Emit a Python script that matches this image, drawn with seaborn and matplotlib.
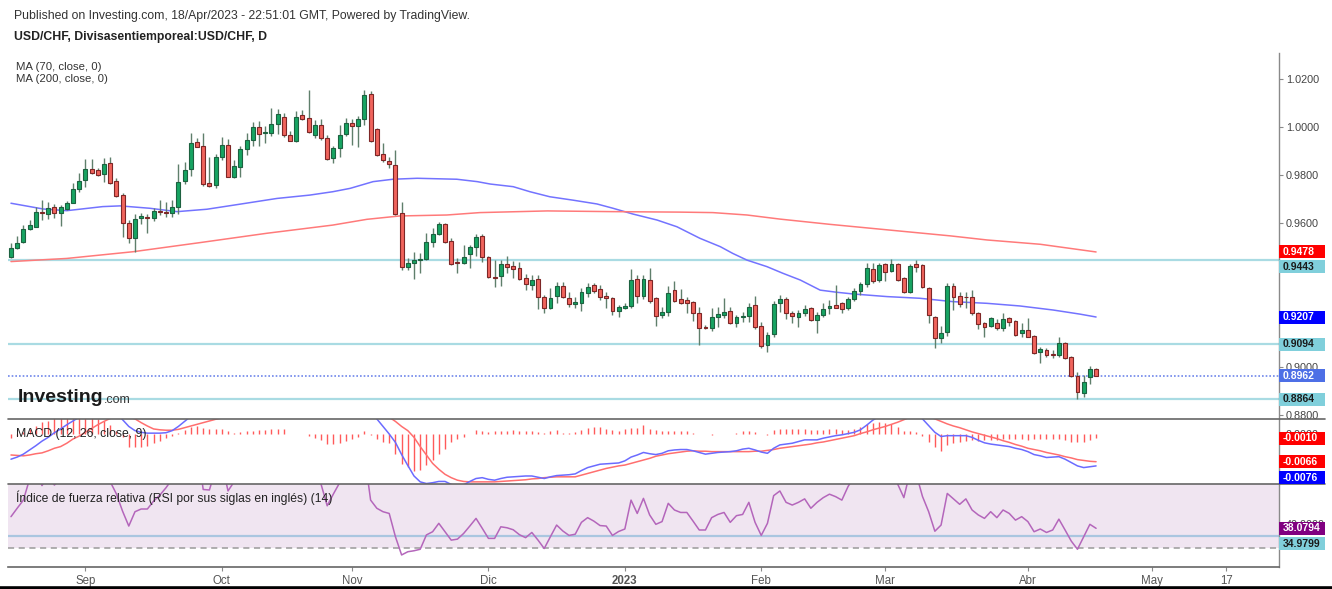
import matplotlib
matplotlib.use("Agg")
import matplotlib.pyplot as plt
from matplotlib.lines import Line2D
from matplotlib.patches import Rectangle
import numpy as np
import pandas as pd
import seaborn as sns

# USD/CHF daily candles, 16 Aug 2022 - 18 Apr 2023
dates = pd.bdate_range("2022-08-16", "2023-04-18")

open_ = [0.9458, 0.9496, 0.9521, 0.9572, 0.9583, 0.9643, 0.9636, 0.9667, 0.9639, 0.9656,
         0.9683, 0.9739, 0.9778, 0.9825, 0.9819, 0.9803, 0.9847, 0.9775, 0.9715, 0.9600,
         0.9535, 0.9618, 0.9622, 0.9621, 0.9649, 0.9644, 0.9642, 0.9664, 0.9775, 0.9822,
         0.9938, 0.9919, 0.9764, 0.9758, 0.9872, 0.9925, 0.9792, 0.9831, 0.9906, 0.9944,
         0.9997, 0.9975, 0.9975, 1.0011, 1.0042, 0.9964, 0.9942, 1.0047, 1.0036, 0.9965,
         1.0007, 0.9951, 0.9868, 0.9910, 0.9969, 1.0017, 1.0003, 1.0031, 1.0136, 0.9989,
         0.9885, 0.9857, 0.9840, 0.9642, 0.9414, 0.9433, 0.9444, 0.9447, 0.9521, 0.9553,
         0.9594, 0.9524, 0.9436, 0.9433, 0.9469, 0.9497, 0.9545, 0.9458, 0.9372, 0.9378,
         0.9428, 0.9419, 0.9410, 0.9368, 0.9340, 0.9364, 0.9289, 0.9243, 0.9294, 0.9338,
         0.9285, 0.9261, 0.9267, 0.9308, 0.9340, 0.9322, 0.9294, 0.9285, 0.9233, 0.9243,
         0.9253, 0.9364, 0.9294, 0.9361, 0.9285, 0.9215, 0.9229, 0.9319, 0.9281, 0.9278,
         0.9268, 0.9222, 0.9167, 0.9160, 0.9206, 0.9215, 0.9233, 0.9183, 0.9206, 0.9213,
         0.9257, 0.9170, 0.9090, 0.9136, 0.9264, 0.9283, 0.9222, 0.9208, 0.9222, 0.9243,
         0.9194, 0.9215, 0.9243, 0.9257, 0.9267, 0.9243, 0.9281, 0.9317, 0.9344, 0.9406,
         0.9361, 0.9428, 0.9400, 0.9428, 0.9368, 0.9313, 0.9428, 0.9424, 0.9326, 0.9208,
         0.9118, 0.9146, 0.9336, 0.9294, 0.9292, 0.9292, 0.9225, 0.9181, 0.9169, 0.9181,
         0.9160, 0.9201, 0.9189, 0.9139, 0.9153, 0.9128, 0.9063, 0.9069, 0.9053, 0.9049,
         0.9097, 0.9039, 0.8961, 0.8892, 0.8956, 0.8989]
high_ = [0.9517, 0.9545, 0.9590, 0.9611, 0.9667, 0.9694, 0.9687, 0.9678, 0.9674, 0.9692,
         0.9767, 0.9806, 0.9864, 0.9864, 0.9826, 0.9869, 0.9875, 0.9785, 0.9722, 0.9611,
         0.9636, 0.9639, 0.9636, 0.9660, 0.9694, 0.9687, 0.9694, 0.9844, 0.9854, 0.9975,
         0.9951, 0.9975, 0.9872, 0.9886, 0.9958, 0.9947, 0.9861, 0.9920, 0.9972, 1.0019,
         1.0025, 1.0003, 1.0079, 1.0072, 1.0058, 0.9983, 1.0067, 1.0069, 1.0153, 1.0028,
         1.0033, 0.9965, 0.9919, 1.0006, 1.0035, 1.0033, 1.0044, 1.0153, 1.0150, 0.9994,
         0.9933, 0.9875, 0.9903, 0.9688, 0.9451, 0.9479, 0.9475, 0.9558, 0.9576, 0.9604,
         0.9600, 0.9535, 0.9451, 0.9507, 0.9507, 0.9553, 0.9553, 0.9461, 0.9444, 0.9444,
         0.9461, 0.9442, 0.9438, 0.9386, 0.9382, 0.9382, 0.9299, 0.9326, 0.9354, 0.9354,
         0.9313, 0.9289, 0.9326, 0.9350, 0.9350, 0.9340, 0.9313, 0.9289, 0.9257, 0.9264,
         0.9406, 0.9382, 0.9382, 0.9410, 0.9289, 0.9250, 0.9336, 0.9358, 0.9322, 0.9292,
         0.9275, 0.9250, 0.9174, 0.9243, 0.9247, 0.9285, 0.9250, 0.9215, 0.9229, 0.9267,
         0.9294, 0.9188, 0.9146, 0.9275, 0.9299, 0.9289, 0.9233, 0.9236, 0.9257, 0.9250,
         0.9229, 0.9264, 0.9278, 0.9340, 0.9271, 0.9289, 0.9326, 0.9354, 0.9431, 0.9433,
         0.9433, 0.9433, 0.9447, 0.9431, 0.9372, 0.9428, 0.9444, 0.9428, 0.9331, 0.9211,
         0.9169, 0.9347, 0.9347, 0.9312, 0.9312, 0.9319, 0.9229, 0.9188, 0.9208, 0.9197,
         0.9225, 0.9206, 0.9194, 0.9181, 0.9201, 0.9132, 0.9083, 0.9076, 0.9069, 0.9122,
         0.9104, 0.9044, 0.8979, 0.8965, 0.9003, 0.8993]
low_ = [0.9451, 0.9492, 0.9517, 0.9569, 0.9581, 0.9611, 0.9614, 0.9618, 0.9586, 0.9653,
        0.9681, 0.9729, 0.9747, 0.9803, 0.9794, 0.9771, 0.9761, 0.9706, 0.9542, 0.9517,
        0.9479, 0.9594, 0.9558, 0.9608, 0.9632, 0.9625, 0.9625, 0.9636, 0.9761, 0.9795,
        0.9914, 0.9753, 0.9750, 0.9743, 0.9861, 0.9789, 0.9785, 0.9789, 0.9882, 0.9920,
        0.9920, 0.9933, 0.9961, 0.9969, 0.9956, 0.9939, 0.9938, 1.0028, 0.9975, 0.9951,
        0.9944, 0.9861, 0.9850, 0.9875, 0.9961, 0.9924, 0.9914, 1.0007, 0.9936, 0.9878,
        0.9854, 0.9826, 0.9632, 0.9403, 0.9403, 0.9364, 0.9392, 0.9444, 0.9500, 0.9549,
        0.9517, 0.9424, 0.9392, 0.9428, 0.9410, 0.9461, 0.9438, 0.9368, 0.9333, 0.9336,
        0.9389, 0.9368, 0.9361, 0.9319, 0.9319, 0.9239, 0.9222, 0.9239, 0.9264, 0.9285,
        0.9250, 0.9243, 0.9233, 0.9289, 0.9308, 0.9278, 0.9243, 0.9215, 0.9206, 0.9239,
        0.9243, 0.9264, 0.9281, 0.9264, 0.9170, 0.9201, 0.9211, 0.9271, 0.9261, 0.9222,
        0.9192, 0.9090, 0.9156, 0.9150, 0.9164, 0.9201, 0.9178, 0.9164, 0.9188, 0.9188,
        0.9156, 0.9076, 0.9063, 0.9125, 0.9229, 0.9197, 0.9183, 0.9167, 0.9211, 0.9192,
        0.9142, 0.9208, 0.9219, 0.9243, 0.9225, 0.9236, 0.9275, 0.9299, 0.9333, 0.9347,
        0.9354, 0.9358, 0.9396, 0.9358, 0.9308, 0.9306, 0.9396, 0.9326, 0.9181, 0.9076,
        0.9100, 0.9128, 0.9236, 0.9250, 0.9243, 0.9215, 0.9156, 0.9125, 0.9164, 0.9153,
        0.9150, 0.9170, 0.9128, 0.9122, 0.9122, 0.9053, 0.9017, 0.9039, 0.9035, 0.9042,
        0.9031, 0.8956, 0.8864, 0.8872, 0.8928, 0.8961]
close_ = [0.9496, 0.9517, 0.9572, 0.9592, 0.9643, 0.9639, 0.9662, 0.9639, 0.9664, 0.9683,
          0.9739, 0.9775, 0.9822, 0.9806, 0.9797, 0.9844, 0.9764, 0.9711, 0.9600, 0.9535,
          0.9614, 0.9628, 0.9618, 0.9649, 0.9644, 0.9642, 0.9664, 0.9768, 0.9819, 0.9933,
          0.9917, 0.9761, 0.9753, 0.9872, 0.9922, 0.9792, 0.9836, 0.9906, 0.9944, 0.9997,
          0.9969, 0.9978, 1.0011, 1.0053, 0.9965, 0.9942, 1.0042, 1.0033, 0.9979, 1.0007,
          0.9951, 0.9865, 0.9910, 0.9965, 1.0014, 1.0003, 1.0031, 1.0132, 0.9940, 0.9882,
          0.9861, 0.9844, 0.9636, 0.9417, 0.9433, 0.9444, 0.9447, 0.9521, 0.9551, 0.9593,
          0.9521, 0.9428, 0.9431, 0.9458, 0.9497, 0.9542, 0.9458, 0.9372, 0.9368, 0.9428,
          0.9417, 0.9406, 0.9364, 0.9344, 0.9361, 0.9292, 0.9244, 0.9285, 0.9338, 0.9289,
          0.9261, 0.9269, 0.9310, 0.9333, 0.9317, 0.9292, 0.9288, 0.9233, 0.9247, 0.9254,
          0.9361, 0.9294, 0.9364, 0.9275, 0.9211, 0.9226, 0.9308, 0.9275, 0.9267, 0.9267,
          0.9222, 0.9160, 0.9160, 0.9206, 0.9219, 0.9226, 0.9181, 0.9206, 0.9211, 0.9250,
          0.9164, 0.9086, 0.9131, 0.9261, 0.9283, 0.9222, 0.9211, 0.9222, 0.9239, 0.9194,
          0.9215, 0.9239, 0.9253, 0.9246, 0.9239, 0.9281, 0.9317, 0.9344, 0.9410, 0.9358,
          0.9424, 0.9396, 0.9428, 0.9361, 0.9313, 0.9419, 0.9417, 0.9331, 0.9215, 0.9118,
          0.9142, 0.9336, 0.9292, 0.9261, 0.9289, 0.9222, 0.9178, 0.9164, 0.9201, 0.9160,
          0.9197, 0.9188, 0.9132, 0.9153, 0.9125, 0.9056, 0.9072, 0.9049, 0.9049, 0.9097,
          0.9035, 0.8961, 0.8896, 0.8938, 0.8989, 0.8962]

# moving averages, read at points along the lines (x = bar number)
ma70_x = [0, 5.2, 9, 14.8, 17.6, 22.4, 26.8, 31.6, 36.9, 42.9, 48.2, 51.9, 54.7, 58.4, 61.6,
          65.5, 71.9, 75.2, 77.3, 81, 83.7, 86.9, 90.6, 94.5, 97.1, 100.3, 104.2, 107.4, 111.1,
          114.4, 116.4, 118.7, 121.9, 124.5, 127.3, 130.5, 133.2, 135.8, 141.3, 146.6, 151.9,
          157.4, 162.7, 168.1, 172.4, 175]
ma70_y = [0.9681, 0.9657, 0.9650, 0.9667, 0.9670, 0.9660, 0.9646, 0.9656, 0.9677, 0.9701, 0.9715,
          0.9729, 0.9743, 0.9771, 0.9781, 0.9785, 0.9781, 0.9771, 0.9761, 0.9750, 0.9729, 0.9708,
          0.9694, 0.9678, 0.9660, 0.9636, 0.9611, 0.9583, 0.9535, 0.9500, 0.9472, 0.9444, 0.9417,
          0.9389, 0.9361, 0.9319, 0.9310, 0.9303, 0.9292, 0.9285, 0.9271, 0.9264, 0.9253, 0.9236,
          0.9219, 0.9207]
ma200_x = [0, 9, 19.7, 30.5, 41.3, 51.9, 57.4, 62.7, 70.3, 75.6, 86.5, 97.1, 107.9, 113.2,
           118.7, 124, 132.1, 143.4, 151.5, 157.4, 166, 175]
ma200_y = [0.9438, 0.9451, 0.9479, 0.9517, 0.9556, 0.9590, 0.9614, 0.9628, 0.9632, 0.9642,
           0.9649, 0.9646, 0.9644, 0.9642, 0.9632, 0.9615, 0.9593, 0.9565, 0.9545, 0.9528,
           0.9510, 0.9478]

# horizontal levels drawn on the price panel
levels = [0.9443, 0.9094, 0.8864]
last_price = 0.8962

# MACD (12, 26, 9)
macd = [-0.0060, -0.0055, -0.0048, -0.0038, -0.0028, -0.0017, -0.0008, 0.0003, 0.0012, 0.0022,
        0.0031, 0.0040, 0.0048, 0.0054, 0.0058, 0.0060, 0.0058, 0.0050, 0.0034, 0.0018,
        0.0008, 0.0004, 0.0002, 0.0002, 0.0002, 0.0003, 0.0008, 0.0018, 0.0030, 0.0042,
        0.0052, 0.0058, 0.0060, 0.0062, 0.0065, 0.0066, 0.0066, 0.0068, 0.0070, 0.0072,
        0.0074, 0.0075, 0.0076, 0.0078, 0.0079, 0.0078, 0.0076, 0.0074, 0.0070, 0.0065,
        0.0060, 0.0055, 0.0050, 0.0048, 0.0047, 0.0046, 0.0046, 0.0048, 0.0048, 0.0036,
        0.0018, 0.0000, -0.0020, -0.0049, -0.0075, -0.0100, -0.0114, -0.0118, -0.0116, -0.0113,
        -0.0113, -0.0120, -0.0124, -0.0121, -0.0113, -0.0106, -0.0104, -0.0108, -0.0110, -0.0106,
        -0.0103, -0.0102, -0.0101, -0.0100, -0.0100, -0.0103, -0.0106, -0.0102, -0.0099, -0.0098,
        -0.0097, -0.0095, -0.0087, -0.0080, -0.0076, -0.0072, -0.0071, -0.0070, -0.0069, -0.0064,
        -0.0055, -0.0050, -0.0044, -0.0047, -0.0049, -0.0046, -0.0040, -0.0038, -0.0037, -0.0037,
        -0.0040, -0.0044, -0.0048, -0.0046, -0.0044, -0.0043, -0.0042, -0.0040, -0.0036, -0.0034,
        -0.0038, -0.0043, -0.0046, -0.0034, -0.0026, -0.0024, -0.0022, -0.0018, -0.0014, -0.0014,
        -0.0014, -0.0010, -0.0007, -0.0004, -0.0002, 0.0001, 0.0004, 0.0010, 0.0021, 0.0033,
        0.0042, 0.0048, 0.0052, 0.0052, 0.0048, 0.0048, 0.0045, 0.0036, 0.0020, 0.0004,
        -0.0006, -0.0004, -0.0004, -0.0004, -0.0004, -0.0008, -0.0015, -0.0021, -0.0024, -0.0026,
        -0.0028, -0.0030, -0.0034, -0.0037, -0.0042, -0.0049, -0.0052, -0.0056, -0.0055, -0.0054,
        -0.0060, -0.0068, -0.0076, -0.0080, -0.0078, -0.0076]
signal = [-0.0050, -0.0051, -0.0052, -0.0050, -0.0047, -0.0045, -0.0040, -0.0034, -0.0030, -0.0022,
          -0.0012, -0.0005, 0.0004, 0.0013, 0.0022, 0.0030, 0.0037, 0.0042, 0.0042, 0.0040,
          0.0036, 0.0027, 0.0019, 0.0012, 0.0010, 0.0009, 0.0009, 0.0011, 0.0015, 0.0019,
          0.0023, 0.0027, 0.0031, 0.0035, 0.0038, 0.0040, 0.0044, 0.0048, 0.0052, 0.0056,
          0.0059, 0.0062, 0.0064, 0.0066, 0.0067, 0.0068, 0.0068, 0.0068, 0.0067, 0.0066,
          0.0064, 0.0062, 0.0060, 0.0058, 0.0056, 0.0054, 0.0052, 0.0050, 0.0048, 0.0046,
          0.0043, 0.0040, 0.0030, 0.0018, 0.0008, -0.0008, -0.0030, -0.0050, -0.0070, -0.0084,
          -0.0096, -0.0104, -0.0110, -0.0113, -0.0114, -0.0114, -0.0114, -0.0114, -0.0114, -0.0113,
          -0.0112, -0.0111, -0.0110, -0.0109, -0.0107, -0.0106, -0.0104, -0.0103, -0.0102, -0.0102,
          -0.0102, -0.0102, -0.0098, -0.0094, -0.0090, -0.0086, -0.0082, -0.0079, -0.0076, -0.0074,
          -0.0070, -0.0066, -0.0062, -0.0058, -0.0053, -0.0050, -0.0047, -0.0045, -0.0043, -0.0041,
          -0.0040, -0.0041, -0.0041, -0.0042, -0.0042, -0.0042, -0.0042, -0.0042, -0.0042, -0.0042,
          -0.0041, -0.0041, -0.0039, -0.0037, -0.0034, -0.0032, -0.0030, -0.0028, -0.0026, -0.0024,
          -0.0021, -0.0019, -0.0016, -0.0013, -0.0010, -0.0007, -0.0004, 0.0001, 0.0005, 0.0010,
          0.0014, 0.0018, 0.0023, 0.0028, 0.0034, 0.0040, 0.0043, 0.0044, 0.0042, 0.0036,
          0.0030, 0.0024, 0.0019, 0.0015, 0.0010, 0.0005, 0.0001, -0.0003, -0.0007, -0.0011,
          -0.0016, -0.0020, -0.0025, -0.0029, -0.0034, -0.0037, -0.0040, -0.0044, -0.0047, -0.0050,
          -0.0054, -0.0057, -0.0061, -0.0063, -0.0065, -0.0066]
hist = [-0.0009, -0.0004, 0.0004, 0.0012, 0.0019, 0.0028, 0.0032, 0.0037, 0.0042, 0.0044,
        0.0043, 0.0045, 0.0044, 0.0041, 0.0036, 0.0030, 0.0021, 0.0008, -0.0008, -0.0030,
        -0.0031, -0.0030, -0.0028, -0.0022, -0.0016, -0.0010, -0.0004, 0.0003, 0.0010, 0.0016,
        0.0019, 0.0015, 0.0012, 0.0013, 0.0012, 0.0006, 0.0002, 0.0004, 0.0006, 0.0008,
        0.0010, 0.0010, 0.0011, 0.0012, 0.0012, 0.0001, 0.0001, 0.0001, -0.0004, -0.0009,
        -0.0014, -0.0025, -0.0025, -0.0022, -0.0017, -0.0012, -0.0006, 0.0006, -0.0002, -0.0012,
        -0.0018, -0.0022, -0.0048, -0.0072, -0.0078, -0.0088, -0.0086, -0.0074, -0.0062, -0.0048,
        -0.0036, -0.0018, -0.0012, -0.0006, 0.0001, 0.0010, 0.0007, 0.0004, 0.0006, 0.0007,
        0.0007, 0.0010, 0.0007, 0.0006, 0.0007, 0.0004, 0.0002, 0.0006, 0.0010, 0.0002,
        0.0002, 0.0004, 0.0010, 0.0015, 0.0017, 0.0017, 0.0012, 0.0010, 0.0007, 0.0012,
        0.0015, 0.0015, 0.0021, 0.0013, 0.0010, 0.0008, 0.0008, 0.0007, 0.0007, 0.0006,
        0.0002, 0.0001, -0.0001, -0.0002, 0.0001, 0.0001, 0.0001, 0.0002, 0.0006, 0.0007,
        0.0004, 0.0001, -0.0002, 0.0010, 0.0012, 0.0012, 0.0012, 0.0012, 0.0013, 0.0010,
        0.0010, 0.0010, 0.0012, 0.0012, 0.0010, 0.0010, 0.0013, 0.0017, 0.0023, 0.0025,
        0.0028, 0.0025, 0.0023, 0.0017, 0.0006, 0.0006, 0.0004, -0.0004, -0.0018, -0.0030,
        -0.0040, -0.0026, -0.0022, -0.0018, -0.0017, -0.0014, -0.0017, -0.0014, -0.0014, -0.0014,
        -0.0012, -0.0012, -0.0012, -0.0012, -0.0014, -0.0012, -0.0012, -0.0012, -0.0012, -0.0012,
        -0.0014, -0.0018, -0.0018, -0.0020, -0.0014, -0.0010]

# RSI (14)
rsi = [42.8, 46.2, 49.5, 58, 62, 55.4, 59, 55.6, 58, 61,
       66, 69, 72, 69, 66, 68, 57, 52, 45, 39.0,
       44.8, 45.9, 45.9, 49.1, 51.5, 54.5, 58, 66, 68, 74,
       72, 53.8, 53.6, 62, 65, 53.2, 57, 62, 66, 70,
       66, 64, 68, 70, 62, 59, 65, 64, 60, 62,
       56, 47.2, 52, 56.5, 61, 63, 62, 68, 49.5, 46.2,
       44.8, 44.1, 34.7, 27.3, 28.6, 29.0, 29.6, 35.4, 36.7, 40.1,
       36.7, 33.3, 33.7, 36.0, 39.0, 42.1, 38.1, 34.0, 34.0, 38.7,
       38.3, 37.5, 35.5, 34.3, 36.4, 33.3, 29.9, 34.7, 39.4, 37.0,
       35.2, 35.7, 40.5, 42.4, 41.0, 39.2, 39.0, 35.2, 36.8, 37.8,
       49.5, 44.1, 50.2, 43.5, 39.7, 40.8, 48.2, 45.5, 44.5, 44.5,
       41.0, 37.4, 37.4, 42.4, 43.7, 44.5, 40.5, 43.2, 43.7, 48.6,
       40.5, 35.2, 40.1, 51.3, 53.2, 48.6, 47.5, 48.6, 50.0, 46.2,
       48.6, 50.5, 51.9, 50.9, 49.5, 55, 59, 62, 67, 62,
       66, 63, 65, 56, 50.5, 61, 60, 51, 44.8, 36.9,
       39.4, 52.2, 50.0, 47.8, 50.0, 45.5, 43.5, 42.1, 44.8, 42.4,
       45.5, 44.1, 41.4, 42.8, 40.8, 36.7, 37.8, 36.4, 37.4, 41.8,
       37.4, 32.9, 29.6, 34.7, 39.7, 38.08]
rsi_level = 34.9799

# x axis labels (month starts, in Spanish)
tick_dates = ["2022-09-01", "2022-10-03", "2022-11-01", "2022-12-01", "2023-01-02",
              "2023-02-01", "2023-03-01", "2023-04-03", "2023-05-01", "2023-05-17"]
tick_labels = ["Sep", "Oct", "Nov", "Dic", "2023", "Feb", "Mar", "Abr", "May", "17"]

# ---------------------------------------------------------------------------
sns.set_theme(style="white")
plt.rcParams["font.family"] = ["Liberation Sans", "DejaVu Sans"]

W, H = 1332, 589
fig = plt.figure(figsize=(W / 100, H / 100), dpi=100)
fig.patch.set_facecolor("white")


def rect(left, top, right, bottom):
    return [left / W, 1 - bottom / H, (right - left) / W, (bottom - top) / H]


ax = fig.add_axes(rect(8, 53, 1279, 419))
ax_m = fig.add_axes(rect(8, 419, 1279, 484.3), sharex=ax)
ax_r = fig.add_axes(rect(8, 484.3, 1279, 567.3), sharex=ax)

x = np.arange(len(dates))
all_days = pd.bdate_range("2022-08-16", "2023-05-31")
tick_pos = [all_days.get_loc(pd.Timestamp(d)) for d in tick_dates]

for a in (ax, ax_m, ax_r):
    a.set_facecolor("white")
    for s in ("top", "left", "bottom"):
        a.spines[s].set_visible(False)
    a.spines["right"].set_color("#8a8a8a")
    a.spines["right"].set_linewidth(1)
    a.yaxis.tick_right()
    a.tick_params(axis="y", direction="out", length=3, width=0.8, color="#8a8a8a",
                  labelsize=7.8, labelcolor="#444444", pad=2)
    a.grid(False)

# ---- price panel
o, h, l, c = map(np.array, (open_, high_, low_, close_))
up = c >= o
body_lo = np.minimum(o, c)
body_h = np.maximum(np.abs(c - o), 0.00018)

for lv in levels:
    ax.axhline(lv, color="#a9dbe3", lw=1.6, zorder=1)
ax.axhline(last_price, color="#6f86ea", lw=1.2, ls=(0, (1, 1.2)), zorder=1)

sns.lineplot(x=ma70_x, y=ma70_y, ax=ax, color="#7373ff", lw=1.1, zorder=2)
sns.lineplot(x=ma200_x, y=ma200_y, ax=ax, color="#ff7a7a", lw=1.1, zorder=2)

ax.vlines(x, l, h, color="#5f7f6b", lw=1, zorder=3)
ax.bar(x[up], body_h[up], bottom=body_lo[up], width=0.62, color="#17a462",
       edgecolor="#1d6140", linewidth=0.8, zorder=4)
ax.bar(x[~up], body_h[~up], bottom=body_lo[~up], width=0.62, color="#f0645c",
       edgecolor="#7d2626", linewidth=0.8, zorder=4)

ax.set_ylim(0.8782, 1.0307)
ax.set_yticks([0.88, 0.90, 0.96, 0.98, 1.00, 1.02])
ax.set_yticklabels([f"{v:.4f}" for v in [0.88, 0.90, 0.96, 0.98, 1.00, 1.02]])
ax.tick_params(axis="x", bottom=False, labelbottom=False)
ax.set_xlabel("")
ax.set_ylabel("")

# ---- MACD panel
ax_m.vlines(x, 0, hist, color="#ff5a5a", lw=1, zorder=2)
sns.lineplot(x=x, y=signal, ax=ax_m, color="#ff6f6f", lw=1.1, zorder=3)
sns.lineplot(x=x, y=macd, ax=ax_m, color="#6b6bff", lw=1.1, zorder=3)
ax_m.set_ylim(-0.01198, 0.00357)
ax_m.set_yticks([0.0])
ax_m.set_yticklabels(["0.0000"])
ax_m.tick_params(axis="x", bottom=False, labelbottom=False)
ax_m.set_xlabel("")
ax_m.set_ylabel("")

# ---- RSI panel
ax_r.axhspan(30, 70, color="#f0e5f1", zorder=0, lw=0)
ax_r.axhline(rsi_level, color="#aac6e0", lw=1.6, zorder=1)
ax_r.axhline(30, color="#9a9a9a", lw=1.1, ls=(0, (4, 3)), zorder=1)
sns.lineplot(x=x, y=rsi, ax=ax_r, color="#b466bb", lw=1.1, zorder=3)
ax_r.set_ylim(22.3, 55.9)
ax_r.set_yticks([40])
ax_r.set_yticklabels(["40.0000"])
ax_r.spines["bottom"].set_visible(True)
ax_r.spines["bottom"].set_color("#666666")
ax_r.spines["bottom"].set_linewidth(1.2)
ax_r.set_xticks(tick_pos)
ax_r.set_xticklabels(tick_labels)
ax_r.tick_params(axis="x", bottom=True, direction="out", length=3, width=0.8,
                 color="#8a8a8a", labelsize=8.3, labelcolor="#555555", pad=2.5)
ax_r.get_xticklabels()[4].set_fontweight("bold")
ax_r.set_xlabel("")
ax_r.set_ylabel("")
ax.set_xlim(-0.48, 204.5)

# ---- panel separators and frame
for yy in (419, 484.3):
    fig.add_artist(Line2D([8 / W, 1325 / W], [1 - yy / H] * 2, color="#666666", lw=1.2))
fig.add_artist(Line2D([0, 1], [1.4 / H] * 2, color="black", lw=2.6))


# ---- value tags on the right axis
def tag(axis, value, text, fc, tc, shift=0.0):
    yp = axis.transData.transform((0, value))[1] - shift
    fig.add_artist(Rectangle((1279 / W, (yp - 6.5) / H), 46 / W, 13 / H,
                             transform=fig.transFigure, facecolor=fc, edgecolor="none", zorder=10))
    fig.text(1283 / W, yp / H, text, color=tc, fontsize=7.5, fontweight="bold",
             va="center", ha="left", zorder=11)


cyan = "#80cfdb"
tag(ax, 0.9478, "0.9478", "#ff0000", "white")
tag(ax, 0.9443, "0.9443", cyan, "#1a1a1a", shift=6.3)
tag(ax, 0.9207, "0.9207", "#0000ff", "white")
tag(ax, 0.9094, "0.9094", cyan, "#1a1a1a")
tag(ax, last_price, "0.8962", "#4d6fe6", "white")
tag(ax, 0.8864, "0.8864", cyan, "#1a1a1a")
tag(ax_m, hist[-1], "-0.0010", "#ff0000", "white")
tag(ax_m, signal[-1], "-0.0066", "#ff0000", "white")
tag(ax_m, macd[-1], "-0.0076", "#0000ff", "white", shift=11.7)
tag(ax_r, rsi[-1], "38.0794", "#800080", "white")
tag(ax_r, rsi_level, "34.9799", cyan, "#1a1a1a", shift=8)

# ---- titles and legends
fig.text(14 / W, 1 - 16 / H, "Published on Investing.com, 18/Apr/2023 - 22:51:01 GMT, Powered by TradingView.",
         fontsize=8.8, color="#333333", va="center")
fig.text(14 / W, 1 - 37 / H, "USD/CHF, Divisasentiemporeal:USD/CHF, D",
         fontsize=8.8, fontweight="bold", color="#222222", va="center")
fig.text(16 / W, 1 - 67 / H, "MA (70, close, 0)", fontsize=8.2, color="#333333", va="center")
fig.text(16 / W, 1 - 78.5 / H, "MA (200, close, 0)", fontsize=8.2, color="#333333", va="center")
fig.text(16 / W, 1 - 434 / H, "MACD (12, 26, close, 9)", fontsize=8.8, color="#222222", va="center")
fig.text(16 / W, 1 - 498 / H, "Índice de fuerza relativa (RSI por sus siglas en inglés) (14)",
         fontsize=8.7, color="#222222", va="center")
fig.text(18 / W, 1 - 398 / H, "Investing", fontsize=14, fontweight="bold", color="#1a1a1a", va="center")
fig.text(104 / W, 1 - 400 / H, ".com", fontsize=9, color="#333333", va="center")

fig.savefig("out.png", dpi=100, facecolor="white")
